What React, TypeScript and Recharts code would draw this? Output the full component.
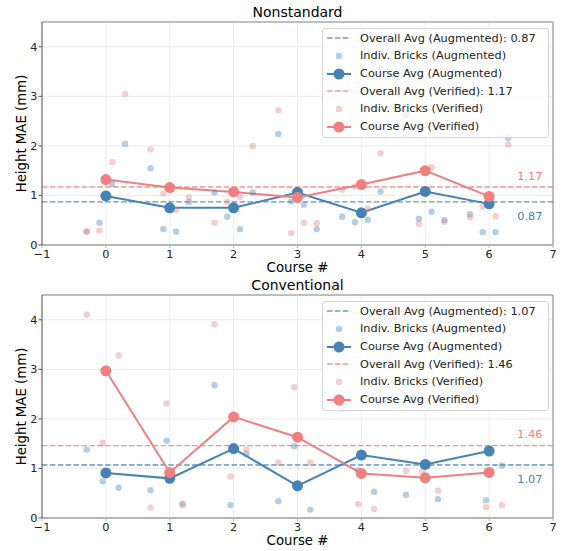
import React from "react";
import {
  CartesianGrid,
  ComposedChart,
  Legend,
  Line,
  ReferenceLine,
  Scatter,
  XAxis,
  YAxis,
} from "recharts";

const BLUE = "#4682b4";
const PINK = "#f08080";
const FONT = "'DejaVu Sans', Verdana, sans-serif";
const TEXT = "#222";

const courses = [0, 1, 2, 3, 4, 5, 6];
const xTicks = [-1, 0, 1, 2, 3, 4, 5, 6, 7];
const yTicks = [0, 1, 2, 3, 4];

// Nonstandard
const nsBrickX = [
  -0.3, -0.1, 0.1, 0.3, 0.7, 0.9, 1.1, 1.3, 1.7, 1.9, 2.1, 2.3, 2.7, 2.9, 3.1, 3.3,
  3.7, 3.9, 4.1, 4.3, 4.7, 4.9, 5.1, 5.3, 5.7, 5.9, 6.1, 6.3,
];
const nsAugBricks = [
  0.27, 0.45, 1.23, 2.04, 1.55, 0.32, 0.27, 0.87, 1.06, 0.57, 0.32, 1.06, 2.24, 0.88, 0.81, 0.32,
  0.57, 0.46, 0.51, 1.08, 2.62, 0.53, 0.67, 0.5, 0.62, 0.26, 0.26, 2.16,
];
const nsVerBricks = [
  0.27, 0.29, 1.67, 3.05, 1.93, 1.04, 0.71, 0.96, 0.45, 0.87, 0.97, 2.0, 2.72, 0.24, 0.45, 0.44,
  1.12, 1.18, 0.73, 1.85, 3.53, 0.43, 1.57, 0.47, 0.56, 0.77, 0.58, 2.03,
];
const nsAugAvg = [0.99, 0.75, 0.75, 1.06, 0.65, 1.08, 0.83];
const nsVerAvg = [1.32, 1.16, 1.07, 0.96, 1.22, 1.5, 0.98];
const nsAugOverall = 0.87;
const nsVerOverall = 1.17;

// Conventional
const cvBrickX = [
  -0.3, -0.05, 0.2, 0.7, 0.95, 1.2, 1.7, 1.95, 2.2, 2.7, 2.95, 3.2, 3.7, 3.95, 4.2, 4.7, 4.95, 5.2,
  5.7, 5.95, 6.2,
];
const cvAugBricks = [
  1.38, 0.74, 0.61, 0.56, 1.56, 0.29, 2.68, 0.26, 1.29, 0.34, 1.45, 0.17, 2.32, 0.96, 0.53, 0.47,
  2.39, 0.38, 2.63, 0.36, 1.06,
];
const cvVerBricks = [
  4.1, 1.52, 3.28, 0.21, 2.31, 0.25, 3.91, 0.84, 1.38, 1.12, 2.64, 1.12, 2.21, 0.28, 0.18, 0.95,
  0.94, 0.55, 2.29, 0.22, 0.26,
];
const cvAugAvg = [0.91, 0.8, 1.4, 0.65, 1.27, 1.08, 1.35];
const cvVerAvg = [2.97, 0.92, 2.04, 1.63, 0.9, 0.81, 0.92];
const cvAugOverall = 1.07;
const cvVerOverall = 1.46;

const toPoints = (xs: number[], ys: number[]) => xs.map((x, i) => ({ x, y: ys[i] }));
const fmtTick = (v: number) => String(v).replace("-", "\u2212");

function BrickDot(color: string) {
  return (props: any) => (
    <circle cx={props.cx} cy={props.cy} r={3.2} fill={color} fillOpacity={0.4} />
  );
}

function refLabel(text: string, color: string, above: boolean) {
  return (props: any) => {
    const vb = props.viewBox;
    return (
      <text
        x={vb.x + vb.width - 10.5}
        y={above ? vb.y - 11 : vb.y + 14.5}
        textAnchor="end"
        dominantBaseline="central"
        fill={color}
        fontSize={11.3}
        fontFamily={FONT}
      >
        {text}
      </text>
    );
  };
}

function LegendIcon({ kind, color }: { kind: string; color: string }) {
  return (
    <svg width={37} height={14} style={{ flex: "none" }}>
      {kind === "dash" && (
        <line x1={4} x2={28} y1={7} y2={7} stroke={color} strokeWidth={1.4} strokeDasharray="5.5 2.4" strokeOpacity={0.8} />
      )}
      {kind === "dot" && <circle cx={16} cy={7} r={3.2} fill={color} fillOpacity={0.4} />}
      {kind === "line" && (
        <>
          <line x1={4} x2={28} y1={7} y2={7} stroke={color} strokeWidth={2} />
          <circle cx={16} cy={7} r={5.5} fill={color} />
        </>
      )}
    </svg>
  );
}

function LegendBox({ aug, ver }: { aug: number; ver: number }) {
  const rows = [
    { kind: "dash", color: BLUE, label: `Overall Avg (Augmented): ${aug.toFixed(2)}` },
    { kind: "dot", color: BLUE, label: "Indiv. Bricks (Augmented)" },
    { kind: "line", color: BLUE, label: "Course Avg (Augmented)" },
    { kind: "dash", color: PINK, label: `Overall Avg (Verified): ${ver.toFixed(2)}` },
    { kind: "dot", color: PINK, label: "Indiv. Bricks (Verified)" },
    { kind: "line", color: PINK, label: "Course Avg (Verified)" },
  ];
  return (
    <div
      style={{
        background: "rgba(255,255,255,0.8)",
        border: "1px solid #d4d4d4",
        borderRadius: 3,
        padding: "0 0 2px 0",
        fontFamily: FONT,
        fontSize: 11.3,
        color: TEXT,
        boxSizing: "border-box",
        width: 227,
      }}
    >
      {rows.map((r) => (
        <div key={r.label} style={{ display: "flex", alignItems: "center", height: 17.7, whiteSpace: "nowrap" }}>
          <LegendIcon kind={r.kind} color={r.color} />
          <span>{r.label}</span>
        </div>
      ))}
    </div>
  );
}

interface PanelProps {
  title: string;
  height: number;
  top: number;
  xAxisHeight: number;
  brickX: number[];
  augBricks: number[];
  verBricks: number[];
  augAvg: number[];
  verAvg: number[];
  augOverall: number;
  verOverall: number;
}

function Panel(p: PanelProps) {
  const augPts = toPoints(p.brickX, p.augBricks);
  const verPts = toPoints(p.brickX, p.verBricks);
  const augLine = toPoints(courses, p.augAvg);
  const verLine = toPoints(courses, p.verAvg);

  return (
    <div style={{ position: "relative", width: 561, height: p.height }}>
      <div
        style={{
          position: "absolute",
          left: 42,
          width: 511,
          top: p.top - 19,
          height: 18,
          lineHeight: "18px",
          textAlign: "center",
          fontFamily: FONT,
          fontSize: 14,
          color: "#000",
        }}
      >
        {p.title}
      </div>
      <ComposedChart
        width={561}
        height={p.height}
        margin={{ top: p.top, right: 8, bottom: 0, left: 0 }}
        style={{ fontFamily: FONT }}
      >
        <CartesianGrid stroke="#ebebeb" />
        <XAxis
          type="number"
          dataKey="x"
          domain={[-1, 7]}
          ticks={xTicks}
          allowDataOverflow
          height={p.xAxisHeight}
          tickFormatter={fmtTick}
          tick={{ fill: TEXT, fontSize: 11.3 }}
          tickSize={3}
          tickMargin={2}
          axisLine={{ stroke: "#b5b5b5", strokeWidth: 2 }}
          tickLine={{ stroke: "#b5b5b5" }}
          label={(props: any) => {
            const vb = props.viewBox;
            return (
              <text
                x={vb.x + vb.width / 2}
                y={vb.y + 22}
                textAnchor="middle"
                dominantBaseline="central"
                fontSize={13.3}
                fontFamily={FONT}
                fill="#000"
              >
                Course #
              </text>
            );
          }}
        />
        <YAxis
          type="number"
          dataKey="y"
          domain={[0, 4.5]}
          ticks={yTicks}
          allowDataOverflow
          width={42}
          tickFormatter={fmtTick}
          tick={{ fill: TEXT, fontSize: 11.3 }}
          tickSize={3.5}
          tickMargin={1}
          axisLine={{ stroke: "#555" }}
          tickLine={{ stroke: "#555" }}
          label={(props: any) => {
            const vb = props.viewBox;
            const cy = vb.y + vb.height / 2;
            return (
              <text
                x={21}
                y={cy}
                transform={`rotate(-90 21 ${cy})`}
                textAnchor="middle"
                dominantBaseline="central"
                fontSize={13.3}
                fontFamily={FONT}
                fill="#000"
              >
                Height MAE (mm)
              </text>
            );
          }}
        />
        <ReferenceLine x={7} stroke="#888" />
        <ReferenceLine y={4.5} stroke="#888" />
        <ReferenceLine
          y={p.augOverall}
          stroke={BLUE}
          strokeOpacity={0.85}
          strokeWidth={1.4}
          strokeDasharray="5.5 2.4"
          label={refLabel(p.augOverall.toFixed(2), BLUE, false)}
        />
        <ReferenceLine
          y={p.verOverall}
          stroke={PINK}
          strokeOpacity={0.85}
          strokeWidth={1.4}
          strokeDasharray="5.5 2.4"
          label={refLabel(p.verOverall.toFixed(2), PINK, true)}
        />
        <Scatter data={augPts} dataKey="y" shape={BrickDot(BLUE)} isAnimationActive={false} />
        <Line
          data={augLine}
          dataKey="y"
          stroke={BLUE}
          strokeWidth={2}
          dot={{ r: 5.5, fill: BLUE, stroke: BLUE, strokeWidth: 0 }}
          activeDot={false}
          isAnimationActive={false}
        />
        <Scatter data={verPts} dataKey="y" shape={BrickDot(PINK)} isAnimationActive={false} />
        <Line
          data={verLine}
          dataKey="y"
          stroke={PINK}
          strokeWidth={2}
          dot={{ r: 5.5, fill: PINK, stroke: PINK, strokeWidth: 0 }}
          activeDot={false}
          isAnimationActive={false}
        />
        <Legend
          layout="vertical"
          align="center"
          verticalAlign="middle"
          wrapperStyle={{ top: p.top + 6.3, left: 322, width: 227, right: "auto", bottom: "auto" }}
          content={() => <LegendBox aug={p.augOverall} ver={p.verOverall} />}
        />
      </ComposedChart>
    </div>
  );
}

export default function App() {
  return (
    <div style={{ width: 561, height: 551, background: "#fff" }}>
      <style>{"body{margin:0}"}</style>
      <Panel
        title="Nonstandard"
        height={275}
        top={22}
        xAxisHeight={30}
        brickX={nsBrickX}
        augBricks={nsAugBricks}
        verBricks={nsVerBricks}
        augAvg={nsAugAvg}
        verAvg={nsVerAvg}
        augOverall={nsAugOverall}
        verOverall={nsVerOverall}
      />
      <Panel
        title="Conventional"
        height={276}
        top={20}
        xAxisHeight={33}
        brickX={cvBrickX}
        augBricks={cvAugBricks}
        verBricks={cvVerBricks}
        augAvg={cvAugAvg}
        verAvg={cvVerAvg}
        augOverall={cvAugOverall}
        verOverall={cvVerOverall}
      />
    </div>
  );
}
